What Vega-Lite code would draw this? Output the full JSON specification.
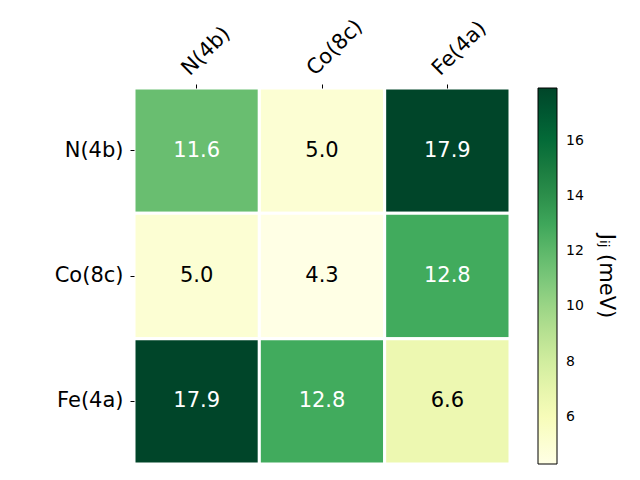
{
  "$schema": "https://vega.github.io/schema/vega-lite/v6.json",
  "width": 376,
  "height": 376,
  "autosize": {"type": "none"},
  "padding": {"left": 134, "top": 88, "right": 130, "bottom": 16},
  "background": "white",
  "config": {
    "view": {"stroke": null},
    "font": "DejaVu Sans",
    "axis": {"labelFont": "DejaVu Sans", "labelColor": "black", "tickColor": "black", "domain": false, "grid": false, "title": null},
    "legend": {"labelFont": "DejaVu Sans", "titleFont": "DejaVu Sans"}
  },
  "data": {
    "values": [
      {"row": "N(4b)", "col": "N(4b)", "J": 11.6},
      {"row": "N(4b)", "col": "Co(8c)", "J": 5.0},
      {"row": "N(4b)", "col": "Fe(4a)", "J": 17.9},
      {"row": "Co(8c)", "col": "N(4b)", "J": 5.0},
      {"row": "Co(8c)", "col": "Co(8c)", "J": 4.3},
      {"row": "Co(8c)", "col": "Fe(4a)", "J": 12.8},
      {"row": "Fe(4a)", "col": "N(4b)", "J": 17.9},
      {"row": "Fe(4a)", "col": "Co(8c)", "J": 12.8},
      {"row": "Fe(4a)", "col": "Fe(4a)", "J": 6.6}
    ]
  },
  "encoding": {
    "x": {"field": "col", "type": "nominal", "sort": ["N(4b)", "Co(8c)", "Fe(4a)"],
      "axis": {"orient": "top", "labelAngle": -45, "labelAlign": "left", "labelBaseline": "alphabetic", "labelFontSize": 21, "tickSize": 4, "labelPadding": 8, "labelOffset": -7}},
    "y": {"field": "row", "type": "nominal", "sort": ["N(4b)", "Co(8c)", "Fe(4a)"],
      "axis": {"labelFontSize": 21, "tickSize": 4, "labelPadding": 7}}
  },
  "layer": [
    {
      "mark": {"type": "rect", "stroke": "white", "strokeWidth": 3},
      "encoding": {
        "color": {"field": "J", "type": "quantitative",
          "scale": {"domain": [4.3, 6.0, 7.7, 9.4, 11.1, 12.8, 14.5, 16.2, 17.9],
            "range": ["#ffffe5", "#f7fcb9", "#d9f0a3", "#addd8e", "#78c679", "#41ab5d", "#238443", "#006837", "#004529"]},
          "legend": {"title": "Jᵢⱼ (meV)", "orient": "right", "offset": 28, "padding": 0,
            "values": [6, 8, 10, 12, 14, 16],
            "gradientLength": 376, "gradientThickness": 19,
            "gradientStrokeColor": "black", "gradientStrokeWidth": 1,
            "labelFontSize": 14, "labelColor": "black", "labelOffset": 9,
            "titleFontSize": 21, "titleFontWeight": "normal", "titleColor": "black",
            "titleOrient": "right", "titleAngle": 90, "titleAnchor": "middle", "titlePadding": 12}}
      }
    },
    {
      "mark": {"type": "text", "fontSize": 21},
      "encoding": {
        "text": {"field": "J", "type": "quantitative", "format": ".1f"},
        "color": {"condition": {"test": "datum.J > 10", "value": "white"}, "value": "black"}
      }
    }
  ]
}
